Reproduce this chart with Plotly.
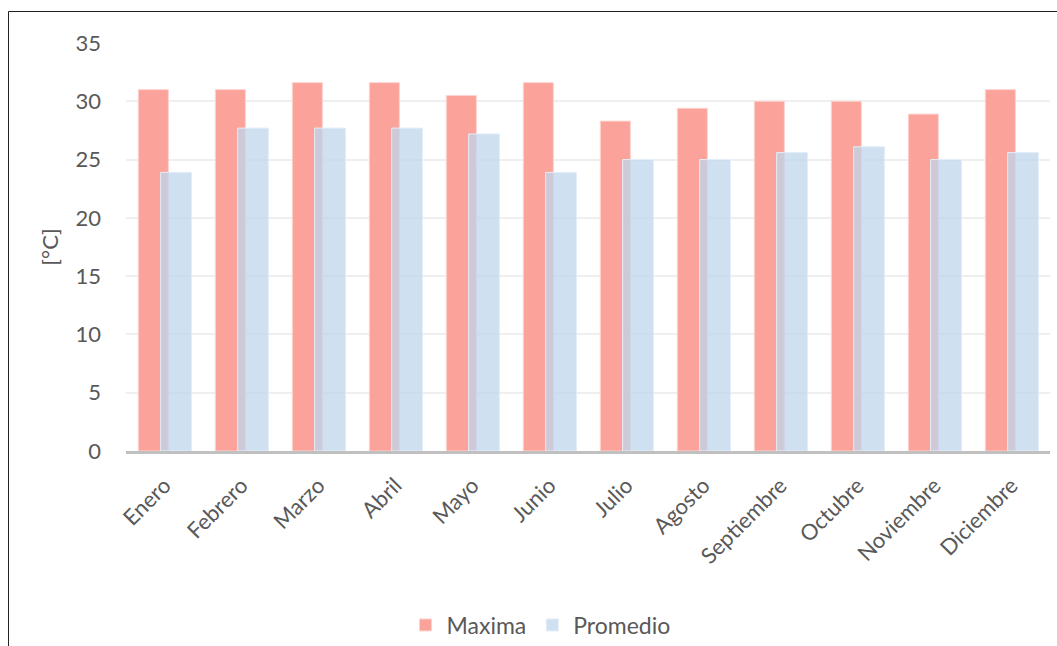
import plotly.graph_objects as go

meses = ["Enero", "Febrero", "Marzo", "Abril", "Mayo", "Junio", "Julio",
         "Agosto", "Septiembre", "Octubre", "Noviembre", "Diciembre"]
maxima = [31.0, 31.0, 31.6, 31.6, 30.5, 31.6, 28.3, 29.4, 30.0, 30.0, 28.9, 31.0]
promedio = [23.9, 27.7, 27.7, 27.7, 27.2, 23.9, 25.0, 25.0, 25.6, 26.1, 25.0, 25.6]
y_ticks = [0, 5, 10, 15, 20, 25, 30, 35]

FONT = "Lato"
TXT = "#595959"

fig = go.Figure()
fig.add_trace(go.Bar(
    x=meses, y=maxima, name="Maxima",
    marker=dict(color="#fba39a", line=dict(color="#fdd3cf", width=1)),
    width=0.39, offset=-0.34,
))
fig.add_trace(go.Bar(
    x=meses, y=promedio, name="Promedio",
    marker=dict(color="rgba(191,214,236,0.75)", line=dict(color="#e3edf8", width=1)),
    width=0.40, offset=-0.05,
))

L, R, T, B = 126, 7, 43, 195
W, H = 1057, 646
pw = W - L - R
ph = H - T - B

fig.update_layout(
    width=W, height=H,
    margin=dict(l=L, r=R, t=T, b=B, autoexpand=False),
    barmode="overlay",
    plot_bgcolor="white", paper_bgcolor="white",
    font=dict(family=FONT, color=TXT, size=22),
    showlegend=True,
    legend=dict(orientation="h", x=(540 - L) / pw, xanchor="center",
                y=-(625 - (H - B)) / ph, yanchor="middle",
                font=dict(size=23, color=TXT), itemwidth=32,
                traceorder="normal"),
    xaxis=dict(tickangle=-45, tickfont=dict(size=22, color=TXT),
               showgrid=False, showline=True, linecolor="#c0c0c0",
               linewidth=3, ticks="", range=[-0.5, 11.5],
               ticklabelstandoff=10),
    yaxis=dict(range=[0, 35], tickvals=y_ticks, tickfont=dict(size=22, color=TXT),
               showgrid=True, gridcolor="#efefef", gridwidth=2,
               zeroline=False, showline=False, ticks="",
               ticklabelstandoff=24,
               title=dict(text="[°C]", font=dict(size=22, color=TXT), standoff=10)),
    shapes=[dict(type="rect", xref="paper", yref="paper",
                 x0=(8.5 - L) / pw, x1=(W + 20 - L) / pw,
                 y0=-(H + 20 - (H - B)) / ph, y1=1 + (T - 11.5) / ph,
                 line=dict(color="#222222", width=1), layer="below")],
)

fig.write_html("out.html")
